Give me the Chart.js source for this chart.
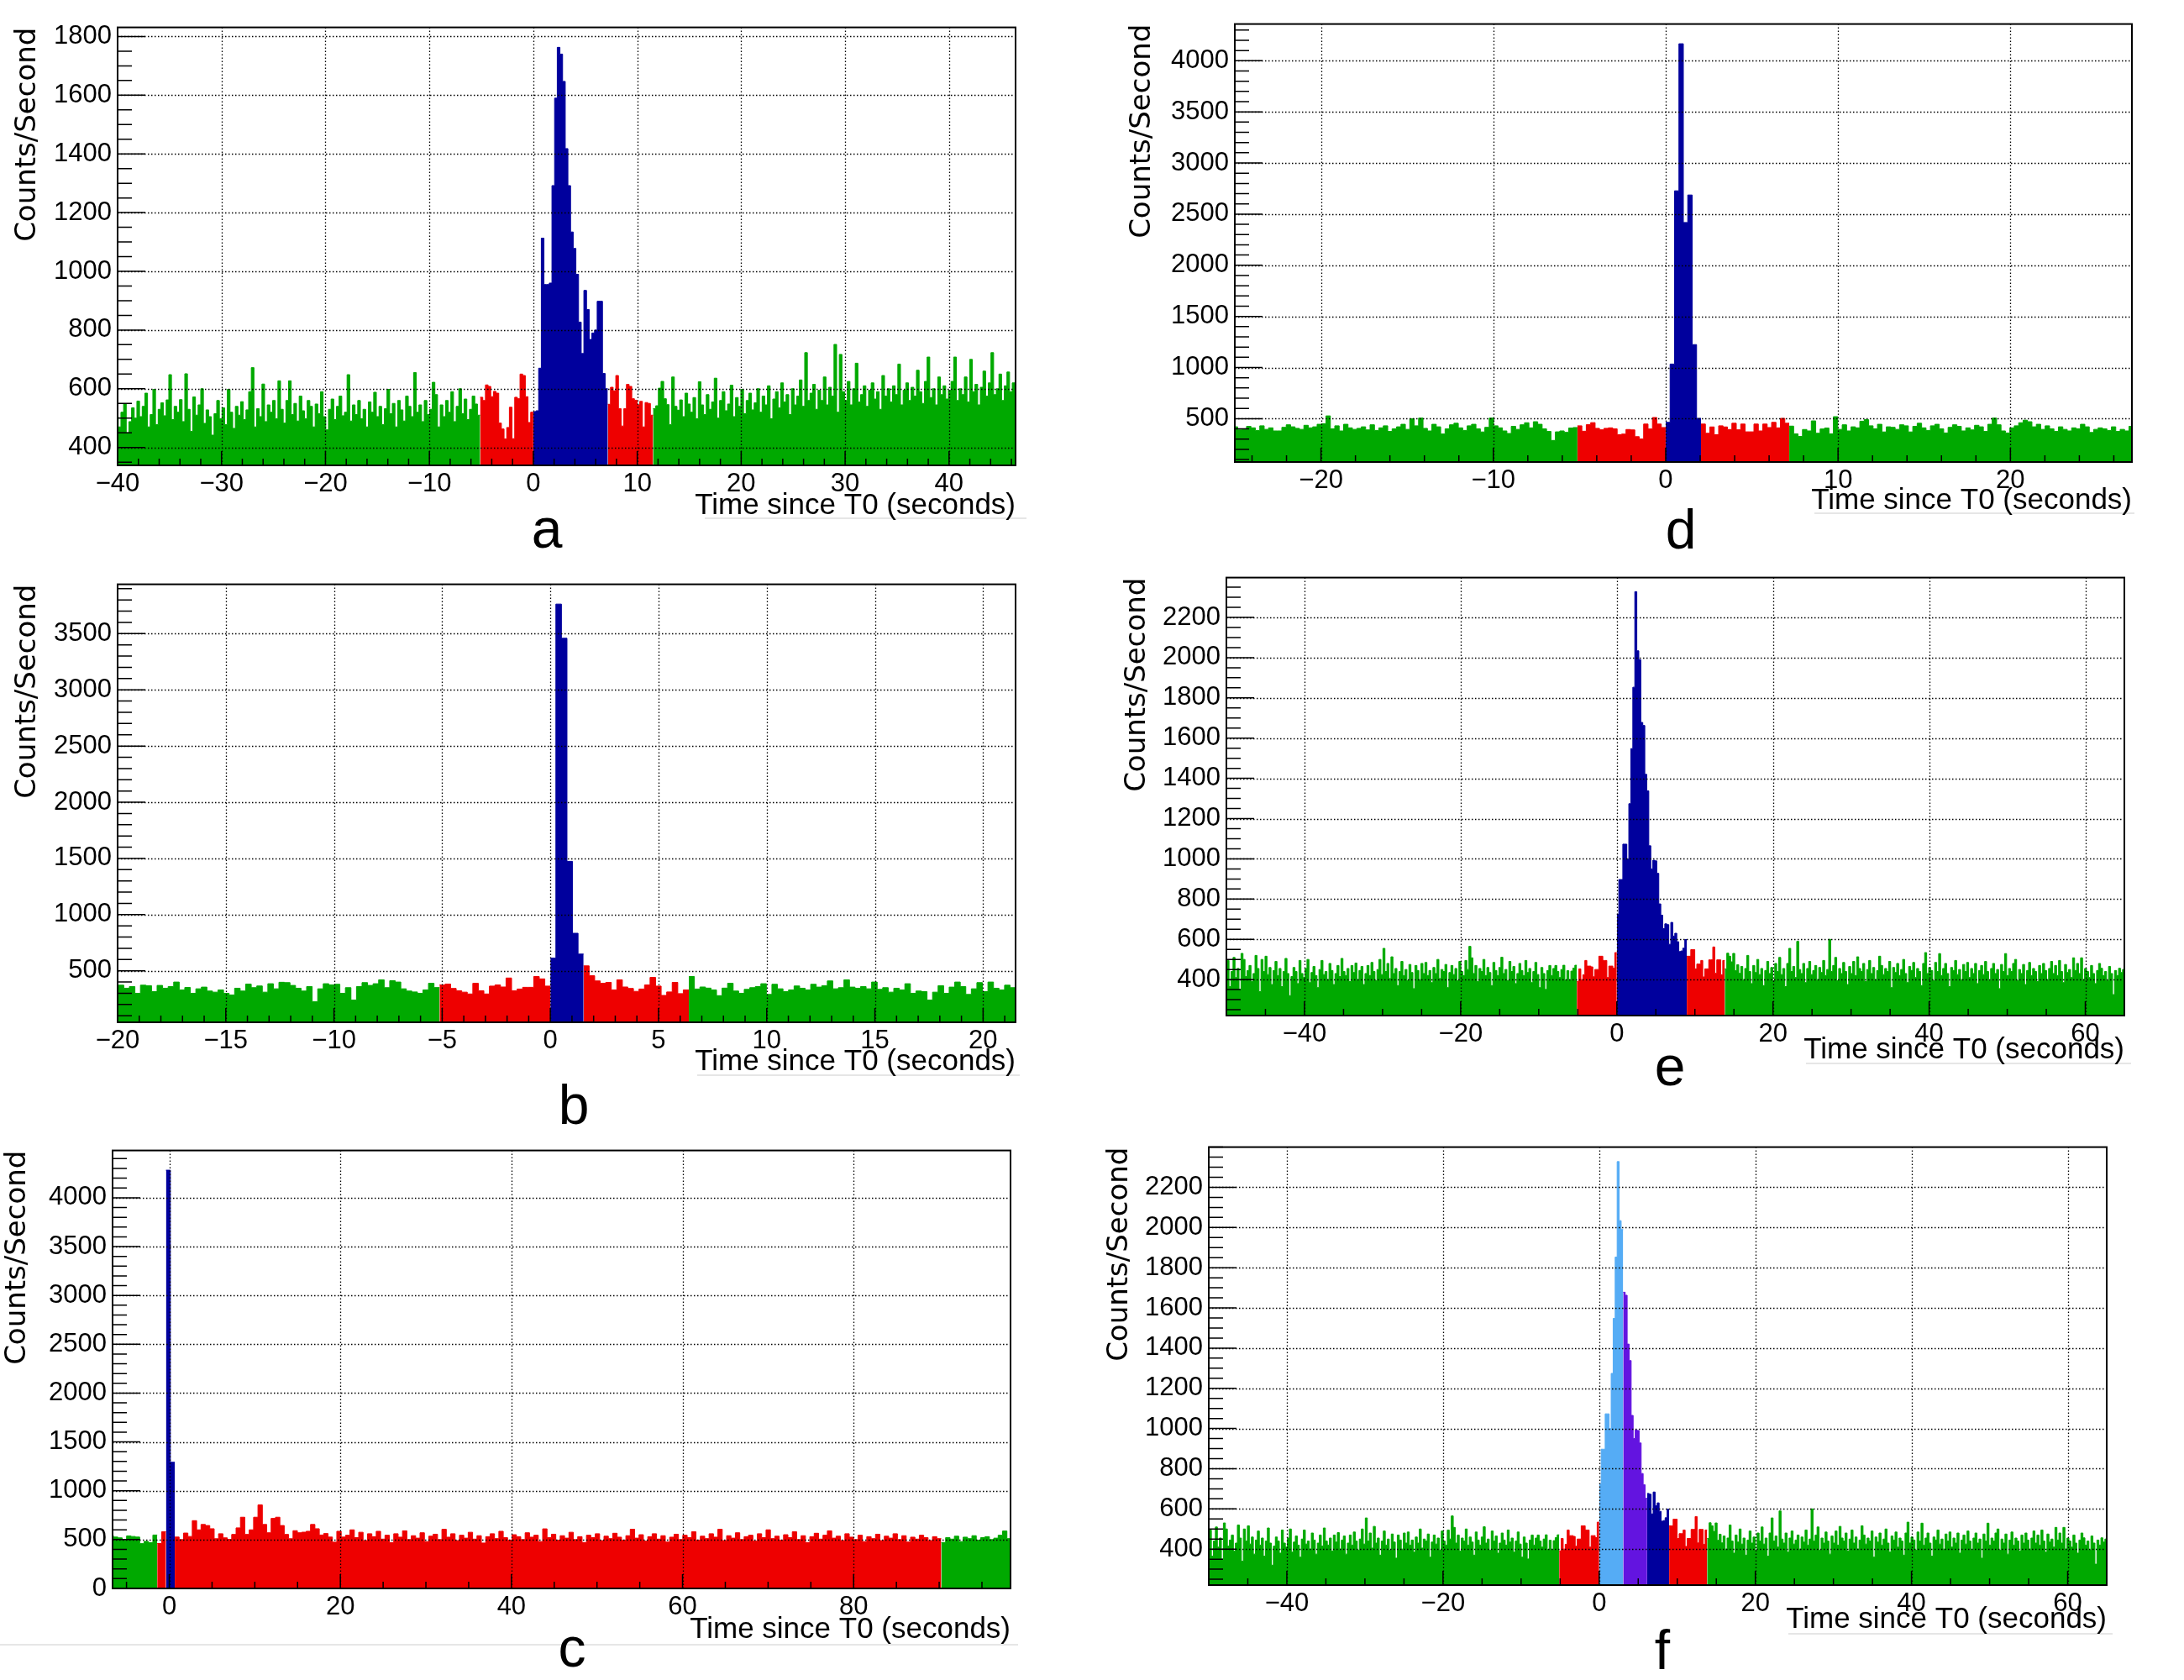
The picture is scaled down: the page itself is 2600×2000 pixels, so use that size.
<!DOCTYPE html>
<html>
<head>
<meta charset="utf-8">
<script src="https://cdn.jsdelivr.net/npm/chart.js@4.4.1/dist/chart.umd.min.js"></script>
<style>
  body { margin: 0; background: #fff; width: 2600px; height: 2000px; position: relative; overflow: hidden; }
  .rule { position: absolute; height: 2px; background: #e6e6e6; }
  .letter { position: absolute; font: 66px "Liberation Sans", Arial, sans-serif; line-height: 66px; color: #000; transform: translateX(-50%); z-index: 5; }
</style>
</head>
<body>

<!-- faint scan lines under the axis titles -->
<div class="rule" style="left:839px;top:616px;width:383px"></div>
<div class="rule" style="left:830px;top:1279px;width:384px"></div>
<div class="rule" style="left:0px;top:1957px;width:1212px"></div>
<div class="rule" style="left:2160px;top:610px;width:381px"></div>
<div class="rule" style="left:2150px;top:1265px;width:387px"></div>
<div class="rule" style="left:2129px;top:1944px;width:386px"></div>

<div class="letter" style="left:651px;top:596px">a</div>
<div class="letter" style="left:683px;top:1282px">b</div>
<div class="letter" style="left:681px;top:1928px">c</div>
<div class="letter" style="left:2001px;top:597px">d</div>
<div class="letter" style="left:1988px;top:1236px">e</div>
<div class="letter" style="left:1979px;top:1931px">f</div>

<script>
// ========================================
// Light curves, counts per second in 0.256 s bins (c: 0.512 s)
// ========================================

const BIN = 0.256;

// ---- a ----
const aStart = -40.192;
const aCounts = [
  505, 470, 520, 548, 450, 488, 535, 500, 558, 505, 540, 585, 470, 512, 598, 478, 530, 552, 508, 562,
  648, 495, 540, 520, 563, 488, 651, 530, 455, 572, 510, 545, 600, 482, 528, 505, 442, 515, 560, 498,
  535, 478, 598, 520, 465, 540, 510, 556, 495, 528, 590, 672, 470, 532, 505, 616, 488, 545, 520, 560,
  498, 627, 530, 483, 560, 627, 512, 550, 490, 575, 525, 498, 560, 540, 470, 548, 515, 590, 505, 460,
  530, 565, 495, 540, 575, 508, 520, 648, 490, 545, 512, 560, 498, 530, 470, 555, 520, 588, 505, 540,
  478, 532, 598, 515, 550, 470, 560, 528, 490, 575, 540, 505, 655, 520, 545, 488, 560, 512, 530, 622,
  580, 470, 545, 505, 560, 520, 590, 488, 540, 600, 515, 565, 495, 530, 575, 548, 510,
  571, 560, 613, 608, 573, 591, 585, 483, 463, 429, 468, 537, 430, 571, 566, 650, 645, 573, 485, 520,
  522, 525, 670, 1113, 955, 955, 960, 1292, 1590, 1763, 1740, 1647, 1418, 1292, 1134, 1078, 990, 827,
  720, 935, 870, 768, 790, 800, 898, 898, 652, 600,
  547, 605, 593, 645, 532, 473, 532, 615, 608, 566, 561, 545, 557, 470, 553, 550, 510,
  532, 542, 602, 625, 566, 546, 478, 640, 540, 527, 562, 505, 585, 548, 520, 570, 498, 624, 545, 512,
  580, 530, 555, 636, 500, 560, 590, 525, 548, 612, 505, 570, 540, 598, 515, 560, 585, 528, 552, 600,
  520, 575, 545, 610, 498, 565, 590, 535, 620, 555, 580, 512, 600, 545, 575, 630, 540, 723, 560, 585,
  615, 530, 595, 560, 640, 545, 605, 575, 751, 520, 717, 590, 560, 625, 545, 600, 687, 555, 580, 610,
  540, 595, 620, 565, 590, 530, 645, 575, 600, 555, 610, 580, 684, 545, 595, 620, 560, 605, 575, 663,
  590, 550, 625, 708, 570, 600, 545, 640, 580, 610, 565, 595, 625, 708, 560, 600, 580, 640, 555, 700,
  590, 615, 545, 605, 660, 575, 620, 723, 580, 600, 650, 560, 610, 657, 590, 620, 600
];
const aRegions = [[-5.12, 0, 'red'], [0, 7.168, 'blue'], [7.168, 11.52, 'red']];
const aXTicks = [-40, -30, -20, -10, 0, 10, 20, 30, 40];
const aYTicks = [400, 600, 800, 1000, 1200, 1400, 1600, 1800];

// ---- b ----
const bStart = -20.224;
const bCounts = [
  330, 372, 345, 360, 300, 372, 368, 315, 370, 345, 360, 400, 330, 352, 300, 340, 355, 320, 310, 330,
  300, 285, 345, 320, 382, 350, 365, 310, 385, 340, 398, 395, 370, 345, 320, 360, 226, 340, 385, 375,
  380, 300, 350, 240, 360, 395, 370, 385, 420, 350, 412, 400, 340, 320, 312, 300, 330, 389, 351,
  374, 382, 343, 323, 310, 294, 389, 323, 294, 364, 374, 356, 436, 323, 338, 353, 353, 449, 428, 364,
  613, 3763, 3459, 1474, 834, 649,
  544, 456, 410, 389, 397, 330, 420, 356, 343, 317, 338, 374, 441, 364, 281, 312, 397, 297, 330,
  449, 338, 356, 346, 330, 279, 346, 389, 320, 300, 335, 350, 360, 385, 290, 380, 340, 315, 330, 365,
  345, 330, 380, 355, 368, 410, 340, 350, 420, 355, 345, 360, 340, 400, 335, 350, 310, 345, 330, 385,
  300, 320, 315, 240, 310, 368, 300, 355, 400, 360, 290, 340, 395, 315, 400, 345, 330, 372, 350
];
const bRegions = [[-5.12, 0, 'red'], [0, 1.536, 'blue'], [1.536, 6.4, 'red']];
const bXTicks = [-20, -15, -10, -5, 0, 5, 10, 15, 20];
const bYTicks = [500, 1000, 1500, 2000, 2500, 3000, 3500];

// ---- c (0.512 s bins) ----
const cStart = -7.04;
const cBin = 0.512;
const cCounts = [
  541, 526, 518, 503, 538, 532, 526, 459, 482, 468, 547,
  460, 580,
  4282, 1292,
  526, 500, 567, 532, 694, 600, 655, 644, 611, 509, 560, 518, 503, 553, 620, 729, 553, 600, 729, 855,
  655, 570, 717, 729, 644, 553, 509, 591, 570, 576, 585, 655, 611, 547, 562, 526, 474, 585, 526,
  545, 600, 520, 575, 490, 560, 530, 585, 505, 545, 470, 560, 525, 590, 500, 540, 515, 570, 480, 535,
  555, 500, 606, 525, 560, 490, 545, 515, 575, 505, 540, 465, 530, 560, 510, 585, 520, 495, 550, 530,
  500, 570, 525, 545, 480, 610, 520, 555, 495, 540, 515, 575, 500, 530, 470, 545, 520, 560, 490, 535,
  510, 565, 525, 495, 540, 606, 515, 550, 485, 530, 560, 505, 540, 475, 525, 555, 500, 545, 520, 580,
  495, 535, 510, 560, 525, 606, 490, 540, 515, 570, 500, 530, 545, 485, 560, 520, 600, 510, 535, 495,
  550, 520, 580, 500, 540, 470, 530, 565, 505, 545, 590, 515, 535, 490, 560, 525, 500, 545, 480, 530,
  510, 555, 490, 535, 515, 560, 500, 540, 475, 525, 505, 545, 520, 490, 530, 510,
  470, 520, 505, 535, 480, 525, 510, 540, 495, 520, 530, 500, 515, 545, 588, 510
];
const cRegions = [[-1.408, -0.384, 'red'], [-0.384, 0.64, 'blue'], [0.64, 90.24, 'red']];
const cXTicks = [0, 20, 40, 60, 80];
const cYTicks = [0, 500, 1000, 1500, 2000, 2500, 3000, 3500, 4000];

// ---- d ----
const dStart = -25.088;
const dCounts = [
  420, 390, 400, 425, 410, 385, 430, 395, 410, 380, 380, 415, 440, 420, 405, 395, 435, 410, 420, 445,
  450, 527, 400, 430, 380, 445, 410, 395, 405, 420, 390, 440, 385, 410, 430, 375, 400, 420, 445, 395,
  500, 430, 505, 405, 380, 445, 420, 350, 400, 440, 455, 410, 385, 430, 445, 400, 370, 415, 505, 430,
  410, 380, 355, 425, 395, 440, 460, 410, 470, 445, 400, 375, 287, 371, 380, 366, 408, 413,
  430, 377, 441, 461, 405, 391, 405, 410, 400, 343, 349, 394, 390, 324, 301, 447, 399, 511, 447, 413,
  464, 1034, 2728, 4166, 2418, 2687, 1224, 503,
  447, 357, 419, 343, 430, 419, 394, 455, 391, 447, 371, 371, 447, 380, 447, 413, 464, 410, 503, 455,
  427, 351, 326, 394, 380, 478, 357, 399, 408, 351, 519, 395, 440, 380, 420, 410, 475, 490, 430, 400,
  445, 370, 420, 415, 395, 440, 430, 370, 425, 455, 410, 385, 430, 445, 400, 360, 415, 440, 425, 380,
  410, 390, 435, 420, 375, 445, 505, 440, 380, 360, 410, 430, 460, 485, 470, 420, 445, 395, 430, 400,
  375, 420, 395, 380, 410, 400, 445, 420, 365, 395, 410, 400, 385, 420, 375, 395, 380, 425
];
const dRegions = [[-5.12, 0, 'red'], [0, 2.048, 'blue'], [2.048, 7.168, 'red']];
const dXTicks = [-20, -10, 0, 10, 20];
const dYTicks = [500, 1000, 1500, 2000, 2500, 3000, 3500, 4000];

// ---- e and f: same light curve, different selections ----
const efStart = -50.176;
const efCounts = [
  420, 495, 365, 440, 510, 410, 455, 350, 530, 500, 415, 445, 470, 390, 430, 520, 455, 340, 500, 440,
  516, 425, 460, 375, 445, 490, 420, 455, 365, 440, 505, 430, 320, 415, 460, 440, 380, 495, 430, 410,
  455, 500, 385, 435, 465, 420, 360, 450, 495, 425, 440, 400, 480, 445, 375, 430, 470, 415, 505, 440,
  420, 455, 390, 470, 435, 482, 400, 445, 465, 375, 430, 470, 420, 485, 440, 395, 450, 500, 425, 555,
  440, 480, 405, 513, 430, 455, 370, 440, 490, 420, 450, 395, 475, 435, 355, 470, 445, 400, 480, 430,
  485, 420, 445, 385, 460, 430, 500, 405, 450, 440, 475, 360, 435, 470, 425, 455, 395, 490, 440, 420,
  495, 450, 565, 508, 430, 470, 390, 455, 440, 500, 420, 460, 435, 370, 485, 445, 420, 460, 511, 430,
  450, 395, 490, 440, 465, 380, 430, 480, 445, 420, 495, 435, 455, 385, 440, 485, 425, 360, 460, 430,
  351, 445, 470, 420, 455, 470, 440, 410, 450, 471, 398, 444, 399, 442, 457, 471,
  391, 453, 400, 424, 495, 467, 467, 463, 414, 450, 450, 516, 516, 495, 495, 410, 467, 467, 457, 534,
  725, 897, 897, 1073, 1073, 999, 1274, 1548, 1853, 2328, 2034, 1990,
  1678, 1663, 1420, 1338, 1065, 950, 993, 990, 928, 776, 720, 653,
  677, 673, 575, 684, 616, 630, 588, 539, 542, 556, 599,
  516, 516, 549, 549, 453, 477, 477, 495, 413, 453, 453, 498, 498, 562, 431, 498, 498, 424, 495,
  453, 531, 516, 488, 530, 444, 474, 431, 465, 400, 455, 520, 440, 380, 470, 435, 500, 425, 455, 370,
  445, 490, 430, 460, 395, 480, 440, 510, 425, 455, 365, 480, 555, 440, 465, 410, 590, 450, 430, 480,
  385, 455, 490, 425, 445, 470, 400, 460, 435, 495, 420, 450, 600, 440, 470, 510, 395, 455, 430, 485,
  440, 375, 465, 430, 490, 420, 513, 455, 440, 480, 390, 450, 495, 430, 460, 400, 445, 516, 470, 425,
  455, 440, 490, 360, 460, 435, 480, 420, 450, 500, 430, 385, 465, 445, 485, 410, 455, 440, 370, 480,
  534, 430, 460, 445, 395, 485, 440, 529, 420, 455, 480, 430, 365, 460, 445, 495, 425, 450, 400, 475,
  440, 485, 410, 455, 430, 480, 380, 445, 470, 425, 490, 440, 395, 455, 480, 430, 450, 355, 475, 440,
  529, 420, 455, 440, 480, 500, 395, 450, 430, 475, 375, 445, 485, 420, 455, 440, 390, 470, 430, 480,
  445, 400, 455, 490, 430, 470, 420, 495, 440, 385, 475, 435, 450, 410, 508, 445, 480, 430, 508, 400,
  455, 440, 410, 470, 430, 380, 445, 480, 456, 420, 440, 395, 465, 430, 325, 445, 420, 456, 435, 450
];
const eRegions = [[-5.12, 0, 'red'], [0, 8.96, 'blue'], [8.96, 13.824, 'red']];
const fRegions = [[-5.12, 0, 'red'], [0, 3.072, 'light'], [3.072, 6.144, 'purple'], [6.144, 8.96, 'blue'], [8.96, 13.824, 'red']];
const efXTicks = [-40, -20, 0, 20, 40, 60];
const efYTicks = [400, 600, 800, 1000, 1200, 1400, 1600, 1800, 2000, 2200];

const COLORS = {
  green: '#00a900',
  red: '#ee0000',
  blue: '#00009d',
  light: '#55acf5',
  purple: '#6314e0'
};

// Panel layout: box = canvas [left, top, width, height] on the page
const panels = [
  { counts: aCounts, start: aStart, bin: BIN, regions: aRegions, xTicks: aXTicks, yTicks: aYTicks,
    xMin: -40, xMax: 46.4, yMin: 339, yMax: 1831, xMinor: 2, yMinor: 50,
    box: [0, 7, 1239, 616], xAxisH: 69, yTitlePad: 12.8 },
  { counts: bCounts, start: bStart, bin: BIN, regions: bRegions, xTicks: bXTicks, yTicks: bYTicks,
    xMin: -20, xMax: 21.5, yMin: 42, yMax: 3939, xMinor: 1, yMinor: 100,
    box: [0, 670, 1239, 615], xAxisH: 68, yTitlePad: 12.8 },
  { counts: cCounts, start: cStart, bin: cBin, regions: cRegions, xTicks: cXTicks, yTicks: cYTicks,
    xMin: -6.63, xMax: 98.34, yMin: 0, yMax: 4484, xMinor: 5, yMinor: 100,
    box: [-6, 1344, 1239, 617], xAxisH: 70, yTitlePad: 6.8 },
  { counts: dCounts, start: dStart, bin: BIN, regions: dRegions, xTicks: dXTicks, yTicks: dYTicks,
    xMin: -25, xMax: 27.05, yMin: 76, yMax: 4359, xMinor: 2, yMinor: 100,
    box: [1330, 3, 1238, 614], xAxisH: 67, yTitlePad: 9.8 },
  { counts: efCounts, start: efStart, bin: BIN, regions: eRegions, xTicks: efXTicks, yTicks: efYTicks,
    xMin: -50, xMax: 65, yMin: 221, yMax: 2398, xMinor: 5, yMinor: 50,
    box: [1320, 662, 1239, 609], xAxisH: 62, yTitlePad: 13.8 },
  { counts: efCounts, start: efStart, bin: BIN, regions: fRegions, xTicks: efXTicks, yTicks: efYTicks,
    xMin: -50, xMax: 65, yMin: 221, yMax: 2400, xMinor: 5, yMinor: 50,
    box: [1299, 1340, 1239, 609], xAxisH: 62, yTitlePad: 13.8 }
];

// split the histogram into one stepped, filled dataset per colour run
function buildDatasets(p) {
  const runs = [];
  let cur = null;
  p.counts.forEach((v, i) => {
    const x0 = p.start + i * p.bin;
    const mid = x0 + p.bin / 2;
    const reg = p.regions.find(r => mid > r[0] && mid < r[1]);
    const key = reg ? reg[2] : 'green';
    if (!cur || cur.key !== key) {
      if (cur) cur.data.push({ x: x0, y: cur.data[cur.data.length - 1].y });
      cur = { key, data: [] };
      runs.push(cur);
    }
    cur.data.push({ x: x0, y: v });
  });
  const end = p.start + p.counts.length * p.bin;
  cur.data.push({ x: end, y: cur.data[cur.data.length - 1].y });

  return runs.map(r => ({
    data: r.data,
    stepped: true,
    fill: 'start',
    borderColor: COLORS[r.key],
    backgroundColor: COLORS[r.key],
    borderWidth: 1,
    pointRadius: 0,
    tension: 0,
    clip: 0
  }));
}

// ROOT look: dotted grid on top, inward ticks, closed frame
function rootFrame(p) {
  return {
    id: 'rootFrame',
    afterDatasetsDraw(chart) {
      const { ctx, chartArea: a, scales: { x, y } } = chart;
      ctx.save();

      ctx.strokeStyle = '#000';
      ctx.lineWidth = 1.3;
      ctx.setLineDash([1.5, 2.5]);
      ctx.beginPath();
      p.xTicks.forEach(v => {
        const px = Math.round(x.getPixelForValue(v)) + 0.5;
        if (px <= a.left + 1 || px >= a.right - 1) return;
        ctx.moveTo(px, a.top);
        ctx.lineTo(px, a.bottom);
      });
      p.yTicks.forEach(v => {
        const py = Math.round(y.getPixelForValue(v)) + 0.5;
        if (py <= a.top + 1 || py >= a.bottom - 1) return;
        ctx.moveTo(a.left, py);
        ctx.lineTo(a.right, py);
      });
      ctx.stroke();
      ctx.setLineDash([]);

      ctx.lineWidth = 1.5;
      ctx.beginPath();
      for (let k = Math.ceil(p.xMin / p.xMinor); k * p.xMinor <= p.xMax + 1e-9; k++) {
        const v = k * p.xMinor;
        const px = x.getPixelForValue(v);
        const major = p.xTicks.some(t => Math.abs(t - v) < 1e-6);
        ctx.moveTo(px, a.bottom);
        ctx.lineTo(px, a.bottom - (major ? 17 : 8));
      }
      for (let k = Math.ceil(p.yMin / p.yMinor); k * p.yMinor <= p.yMax + 1e-9; k++) {
        const v = k * p.yMinor;
        const py = y.getPixelForValue(v);
        const major = p.yTicks.some(t => Math.abs(t - v) < 1e-6);
        ctx.moveTo(a.left, py);
        ctx.lineTo(a.left + (major ? 33 : 17), py);
      }
      ctx.stroke();

      ctx.lineWidth = 2;
      ctx.strokeRect(a.left, a.top, a.right - a.left, a.bottom - a.top);
      ctx.restore();
    }
  };
}

const minus = v => (v < 0 ? '\u2212' + (-v) : String(v));
const tickFont = { family: 'Liberation Sans', size: 31 };

panels.forEach(p => {
  const [left, top, w, h] = p.box;
  const cv = document.createElement('canvas');
  cv.width = w;
  cv.height = h;
  cv.style.cssText = `position:absolute;left:${left}px;top:${top}px;width:${w}px;height:${h}px;z-index:2`;
  document.body.appendChild(cv);

  new Chart(cv, {
    type: 'line',
    data: { datasets: buildDatasets(p) },
    options: {
      responsive: false,
      animation: false,
      events: [],
      layout: { padding: { left: 0, top: 20, right: 30, bottom: 0 } },
      plugins: { legend: { display: false }, tooltip: { enabled: false } },
      scales: {
        x: {
          type: 'linear',
          min: p.xMin,
          max: p.xMax,
          afterBuildTicks: s => { s.ticks = p.xTicks.map(v => ({ value: v })); },
          afterFit: s => { s.height = p.xAxisH; },
          grid: { display: false, drawTicks: false },
          border: { display: false },
          ticks: { padding: 4, color: '#000', font: tickFont, maxRotation: 0, autoSkip: false, callback: minus },
          title: {
            display: true,
            text: 'Time since T0 (seconds)',
            align: 'end',
            color: '#000',
            font: { family: 'Liberation Sans', size: 35 },
            padding: { top: 0, bottom: 0 }
          }
        },
        y: {
          type: 'linear',
          min: p.yMin,
          max: p.yMax,
          afterBuildTicks: s => { s.ticks = p.yTicks.map(v => ({ value: v })); },
          afterFit: s => { s.width = 140; },
          grid: { display: false, drawTicks: false },
          border: { display: false },
          ticks: { padding: 7, color: '#000', font: tickFont, autoSkip: false, callback: minus },
          title: {
            display: true,
            text: 'Counts/Second',
            align: 'end',
            color: '#000',
            font: { family: 'DejaVu Sans', size: 34 },
            padding: { top: p.yTitlePad, bottom: 0 }
          }
        }
      }
    },
    plugins: [rootFrame(p)]
  });
});
</script>
</body>
</html>
